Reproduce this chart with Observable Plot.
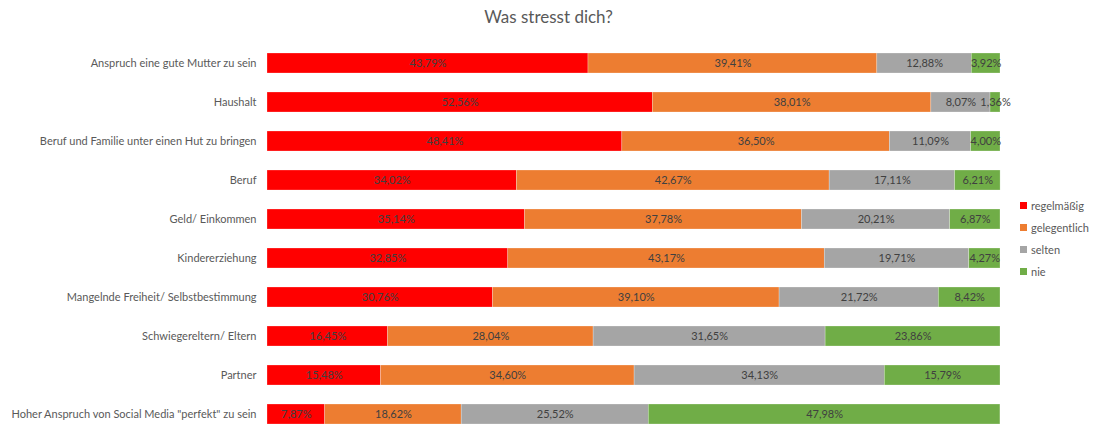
<!DOCTYPE html>
<html>
<head>
<meta charset="utf-8">
<script src="https://cdn.jsdelivr.net/npm/d3@7"></script>
<script src="https://cdn.jsdelivr.net/npm/@observablehq/plot@0.6"></script>
<style>
  html, body { margin: 0; padding: 0; background: #fff; }
  #wrap { position: relative; width: 1097px; height: 425px; overflow: hidden; font-family: Lato, "Open Sans", sans-serif; }
  #title { height: 34px; line-height: 34px; text-align: center; font-size: 17px; color: #595959; }
  #legend { position: absolute; left: 1020px; top: 194px; font-size: 11px; color: #595959; }
  .item { height: 22px; display: flex; align-items: center; }
  .sw { width: 7px; height: 7px; margin-right: 4px; }
</style>
</head>
<body>
<div id="wrap">
  <div id="title">Was stresst dich?</div>
  <div id="chart"></div>
  <div id="legend"></div>
</div>
<script>
const categories = [
  "Anspruch eine gute Mutter zu sein",
  "Haushalt",
  "Beruf und Familie unter einen Hut zu bringen",
  "Beruf",
  "Geld/ Einkommen",
  "Kindererziehung",
  "Mangelnde Freiheit/ Selbstbestimmung",
  "Schwiegereltern/ Eltern",
  "Partner",
  "Hoher Anspruch von Social Media \"perfekt\" zu sein"
];
const seriesNames = ["regelmäßig", "gelegentlich", "selten", "nie"];
const colors = ["#FF0000", "#ED7D31", "#A5A5A5", "#70AD47"];
const regelmaessig = [43.79, 52.56, 48.41, 34.02, 35.14, 32.85, 30.76, 16.45, 15.48, 7.87];
const gelegentlich = [39.41, 38.01, 36.50, 42.67, 37.78, 43.17, 39.10, 28.04, 34.60, 18.62];
const selten = [12.88, 8.07, 11.09, 17.11, 20.21, 19.71, 21.72, 31.65, 34.13, 25.52];
const nie = [3.92, 1.36, 4.00, 6.21, 6.87, 4.27, 8.42, 23.86, 15.79, 47.98];

const seriesValues = [regelmaessig, gelegentlich, selten, nie];
const data = [];
categories.forEach((c, i) => {
  seriesNames.forEach((s, j) => {
    data.push({category: c, series: s, value: seriesValues[j][i]});
  });
});
const fmt = v => v.toFixed(2).replace(".", ",") + "%";

const chart = Plot.plot({
  width: 1097,
  height: 391,
  marginLeft: 267,
  marginRight: 97,
  marginTop: 18,
  marginBottom: 1,
  style: {fontFamily: "Lato, 'Open Sans', sans-serif", fontSize: "11px", color: "#595959", background: "#fff"},
  x: {domain: [0, 100], axis: null},
  y: {domain: categories, paddingInner: 0.49, paddingOuter: 0, label: null, tickSize: 0, tickPadding: 11},
  color: {domain: seriesNames, range: colors},
  marks: [
    Plot.barX(data, Plot.stackX({x: "value", y: "category", z: "series", fill: "series", stroke: "#fff", strokeOpacity: 0.5, strokeWidth: 0.5})),
    Plot.text(data, Plot.stackX({x: "value", y: "category", z: "series", text: d => fmt(d.value), fill: "#404040", fontSize: 11})),
    Plot.axisY({tickSize: 0, tickPadding: 11, label: null, fill: "#595959", fontSize: 11})
  ]
});
document.getElementById("chart").appendChild(chart);

const legend = document.getElementById("legend");
seriesNames.forEach((s, j) => {
  const it = document.createElement("div");
  it.className = "item";
  const sw = document.createElement("div");
  sw.className = "sw";
  sw.style.background = colors[j];
  const lb = document.createElement("span");
  lb.textContent = s;
  it.appendChild(sw);
  it.appendChild(lb);
  legend.appendChild(it);
});
</script>
</body>
</html>
